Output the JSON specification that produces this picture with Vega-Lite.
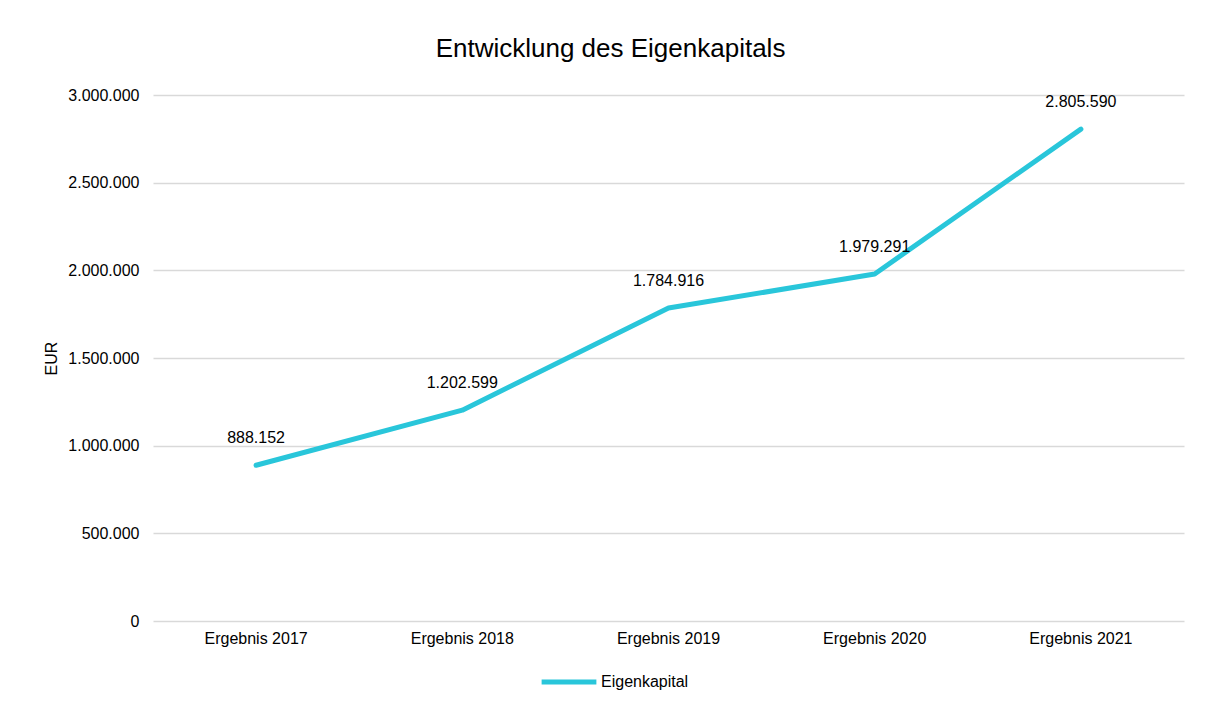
{
  "$schema": "https://vega.github.io/schema/vega-lite/v6.json",
  "width": 1031,
  "height": 526,
  "autosize": {"type": "none"},
  "padding": {"left": 153, "top": 95, "right": 24, "bottom": 86},
  "background": "white",
  "config": {
    "locale": {"number": {"decimal": ",", "thousands": ".", "grouping": [3], "currency": ["", " €"]}},
    "font": "Liberation Sans",
    "view": {"stroke": null}
  },
  "title": {
    "text": "Entwicklung des Eigenkapitals",
    "fontSize": 26,
    "fontWeight": "normal",
    "font": "Liberation Sans",
    "color": "#000000",
    "anchor": "middle",
    "dx": -58,
    "offset": 25
  },
  "data": {
    "values": [
      {"kategorie": "Ergebnis 2017", "wert": 888152, "serie": "Eigenkapital"},
      {"kategorie": "Ergebnis 2018", "wert": 1202599, "serie": "Eigenkapital"},
      {"kategorie": "Ergebnis 2019", "wert": 1784916, "serie": "Eigenkapital"},
      {"kategorie": "Ergebnis 2020", "wert": 1979291, "serie": "Eigenkapital"},
      {"kategorie": "Ergebnis 2021", "wert": 2805590, "serie": "Eigenkapital"}
    ]
  },
  "encoding": {
    "x": {
      "field": "kategorie",
      "type": "nominal",
      "sort": null,
      "scale": {"type": "band", "paddingInner": 0, "paddingOuter": 0},
      "axis": {
        "title": null,
        "labelAngle": 0,
        "labelFontSize": 16,
        "labelColor": "#000000",
        "labelPadding": 9,
        "domain": false,
        "ticks": false,
        "grid": false
      }
    },
    "y": {
      "field": "wert",
      "type": "quantitative",
      "scale": {"domain": [0, 3000000], "nice": false},
      "axis": {
        "title": "EUR",
        "titleFontSize": 16,
        "titleFontWeight": "normal",
        "titleColor": "#000000",
        "titlePadding": 8,
        "values": [0, 500000, 1000000, 1500000, 2000000, 2500000, 3000000],
        "format": ",d",
        "labelFontSize": 16,
        "labelColor": "#000000",
        "labelPadding": 14,
        "domain": false,
        "ticks": false,
        "grid": true,
        "gridColor": "#d9d9d9",
        "gridWidth": 1.5
      }
    }
  },
  "layer": [
    {
      "mark": {"type": "line", "strokeWidth": 5, "strokeCap": "round", "strokeJoin": "round"},
      "encoding": {
        "color": {
          "field": "serie",
          "type": "nominal",
          "scale": {"range": ["#29C6DA"]},
          "legend": {
            "title": null,
            "orient": "none",
            "legendX": 386,
            "legendY": 557,
            "symbolType": "stroke",
            "symbolSize": 3000,
            "symbolStrokeWidth": 5,
            "labelFontSize": 16,
            "labelColor": "#000000",
            "labelOffset": 2
          }
        }
      }
    },
    {
      "mark": {"type": "text", "baseline": "bottom", "dy": -19, "fontSize": 16, "color": "#000000"},
      "encoding": {
        "text": {"field": "wert", "type": "quantitative", "format": ",d"}
      }
    }
  ]
}
